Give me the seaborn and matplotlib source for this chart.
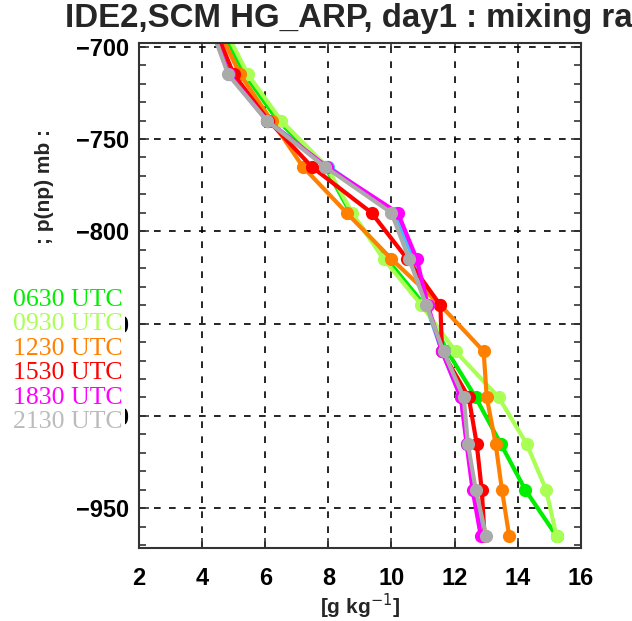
import numpy as np
import pandas as pd
import matplotlib
matplotlib.use("Agg")
import matplotlib.pyplot as plt
import seaborn as sns
from matplotlib.ticker import MultipleLocator
from matplotlib.lines import Line2D

# ---- data ----
levels = [-690, -715, -740, -765, -790, -815, -840, -865, -890, -915, -940, -965]
times = ["0330 UTC", "0630 UTC", "0930 UTC", "1230 UTC", "1530 UTC", "1830 UTC", "2130 UTC"]
q_0330 = [4.3, 4.85, 6.05, 8.0, 10.1, 10.7, 11.1, 11.6, 12.2, 12.4, 12.6, 12.9]
q_0630 = [4.6, 5.35, 6.4, 7.9, 8.7, 9.85, 11.05, 11.77, 12.67, 13.46, 14.24, 15.23]
q_0930 = [4.7, 5.45, 6.5, 7.95, 8.75, 9.75, 10.95, 12.03, 13.4, 14.28, 14.9, 15.23]
q_1230 = [4.5, 5.2, 6.2, 7.19, 8.58, 10.0, 11.55, 12.92, 13.02, 13.3, 13.5, 13.73]
q_1530 = [4.4, 5.0, 6.1, 7.47, 9.37, 10.5, 11.55, 11.6, 12.45, 12.7, 12.86, 12.95]
q_1830 = [4.3, 4.85, 6.05, 7.95, 10.2, 10.8, 11.15, 11.6, 12.2, 12.38, 12.57, 12.83]
q_2130 = [4.3, 4.82, 6.05, 7.89, 10.0, 10.56, 11.1, 11.65, 12.29, 12.42, 12.67, 13.0]
series = [q_0330, q_0630, q_0930, q_1230, q_1530, q_1830, q_2130]
colors = ["#40c0ff", "#00ee00", "#aaff55", "#ff8000", "#ff0000", "#ff00ff", "#aaaaaa"]
legend_times = times[1:]
xticks = [2, 4, 6, 8, 10, 12, 14, 16]
yticks = [-950, -900, -850, -800, -750, -700]

rows = []
for t, vals in zip(times, series):
    for p, q in zip(levels, vals):
        rows.append({"time": t, "p": p, "q": q})
df = pd.DataFrame(rows)

sns.set_style("ticks")
plt.rcParams["font.family"] = ["Liberation Sans", "DejaVu Sans"]

fig = plt.figure(figsize=(6.32, 6.21), dpi=100)
ax = fig.add_axes([0.220, 0.1176, 0.699, 0.8132])

sns.lineplot(data=df, x="q", y="p", hue="time", hue_order=times,
             palette=dict(zip(times, colors)), sort=False, estimator=None,
             marker="o", markersize=9.5, markeredgewidth=0, linewidth=3,
             legend=False, ax=ax)

ax.set_xlim(2, 16)
ax.set_ylim(-971.5, -698)
ax.set_xticks(xticks)
ax.set_yticks(yticks)
ax.yaxis.set_minor_locator(MultipleLocator(10))
ax.tick_params(axis="both", which="both", direction="in", top=True, right=True,
               width=1.2, colors="#333333", labelcolor="black")
ax.tick_params(axis="both", which="major", length=7, labelsize=17)
ax.tick_params(axis="x", which="major", pad=14)
ax.tick_params(axis="y", which="major", pad=7)
ax.tick_params(axis="y", which="minor", length=5)
ax.set_yticklabels([f"\u2212{abs(v)}" for v in yticks])
for lab in ax.get_xticklabels() + ax.get_yticklabels():
    lab.set_fontweight("bold")
ax.grid(True, which="major", linestyle=(0, (4, 5)), color="black", linewidth=1.2)
for s in ax.spines.values():
    s.set_linewidth(1.5)
    s.set_color("#333333")

ax.set_xlabel("[g kg$^{-1}$]", fontsize=15, fontweight="bold", labelpad=1)
ax.set_ylabel("")
fig.text(0.071, 0.70, "; p(np) mb :", rotation=90, fontsize=15, fontweight="bold",
         ha="center", va="center")

fig.text(65 / 632, 1 - 19 / 621, "IDE2,SCM HG_ARP, day1 : mixing ratio",
         fontsize=23.8, fontweight="bold", ha="left", va="center")

handles = [Line2D([], [], linestyle="none") for _ in legend_times]
leg = fig.legend(handles, legend_times, loc="upper left",
                 bbox_to_anchor=(10 / 632, 1 - 285 / 621), handlelength=0,
                 handletextpad=0, labelspacing=0.06, borderpad=0.1, borderaxespad=0,
                 frameon=True, fancybox=False,
                 prop={"family": "Liberation Serif", "size": 18.5})
leg.get_frame().set_facecolor("white")
leg.get_frame().set_edgecolor("none")
leg.get_frame().set_alpha(1)
for txt, c in zip(leg.get_texts(), colors[1:]):
    txt.set_color(c if c != "#aaaaaa" else "#bbbbbb")

fig.savefig("out.png", dpi=100)
